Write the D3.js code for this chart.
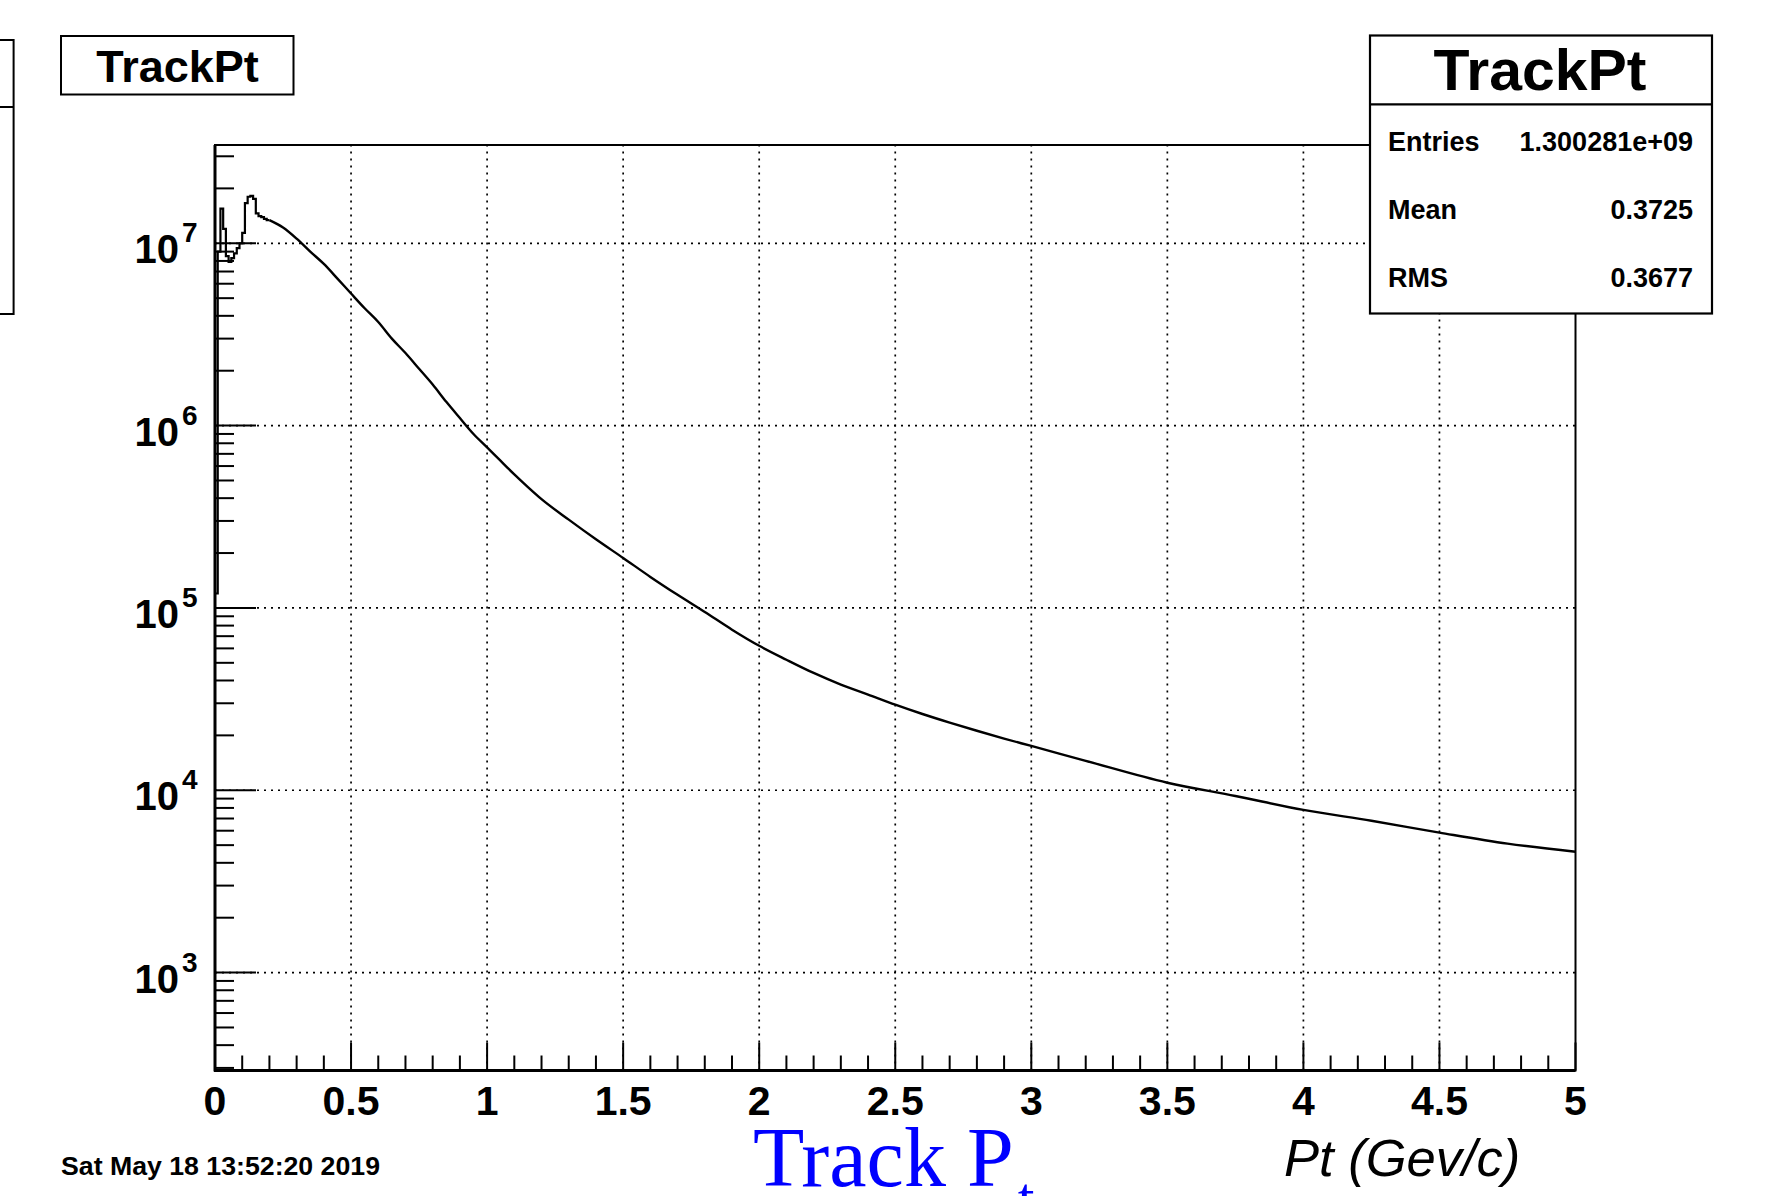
<!DOCTYPE html>
<html>
<head>
<meta charset="utf-8">
<script src="https://cdn.jsdelivr.net/npm/d3@7"></script>
<style>
  html, body { margin: 0; padding: 0; background: #fff; }
  svg { display: block; }
</style>
</head>
<body>
<svg id="chart" width="1777" height="1196"></svg>
<script>
// ---------------- DATA ----------------
// Low-Pt region: histogram bins of width 0.01 GeV/c starting at 0
const lowBinWidth = 0.01;
const lowBinCounts = [1.2e5, 9.0e6, 1.55e7, 1.2e7, 8.5e6, 7.9e6, 8.3e6, 8.8e6, 9.4e6, 1.0e7,
                      1.14e7, 1.66e7, 1.8e7, 1.82e7, 1.75e7, 1.46e7, 1.41e7, 1.39e7, 1.36e7, 1.34e7];
// Tail of the spectrum (Pt, counts)
const tailPt     = [0.20, 0.25, 0.30, 0.35, 0.40, 0.45, 0.50, 0.55, 0.60, 0.65, 0.70, 0.75, 0.80, 0.85, 0.90, 0.95,
                    1.00, 1.05, 1.10, 1.15, 1.20, 1.30, 1.40, 1.50, 1.60, 1.70, 1.80, 1.90, 2.00,
                    2.10, 2.20, 2.30, 2.40, 2.50, 2.60, 2.70, 2.80, 2.90,
                    3.00, 3.20, 3.50, 3.75, 4.00, 4.25, 4.50, 4.75, 5.00];
const tailCounts = [1.33e7, 1.22e7, 1.06e7, 9.0e6, 7.7e6, 6.4e6, 5.3e6, 4.4e6, 3.7e6, 3.0e6, 2.5e6, 2.05e6, 1.68e6, 1.35e6, 1.1e6, 9.0e5,
                    7.6e5, 6.4e5, 5.4e5, 4.6e5, 3.95e5, 3.05e5, 2.38e5, 1.88e5, 1.48e5, 1.18e5, 9.5e4, 7.6e4, 6.2e4,
                    5.2e4, 4.4e4, 3.8e4, 3.35e4, 2.95e4, 2.62e4, 2.35e4, 2.12e4, 1.92e4,
                    1.75e4, 1.45e4, 1.1e4, 9.3e3, 7.8e3, 6.8e3, 5.86e3, 5.1e3, 4.6e3];

const xMajorTicks = [0, 0.5, 1, 1.5, 2, 2.5, 3, 3.5, 4, 4.5, 5];
const xTickLabels = ["0", "0.5", "1", "1.5", "2", "2.5", "3", "3.5", "4", "4.5", "5"];
const yDecades = [1e3, 1e4, 1e5, 1e6, 1e7];
const yExponents = ["3", "4", "5", "6", "7"];

const histTitle = "TrackPt";
const statsLabels = ["Entries", "Mean", "RMS"];
const statsValues = ["1.300281e+09", "0.3725", "0.3677"];
const dateText = "Sat May 18 13:52:20 2019";
const xTitle = "Pt (Gev/c)";
const canvasLabel = "Track P";
const canvasLabelSub = "t";

// ---------------- LAYOUT ----------------
const svg = d3.select("#chart");
svg.append("rect").attr("width", 1777).attr("height", 1196).attr("fill", "#fff");

const L = 215, R = 1575.5, T = 145, B = 1070.5;
const x = d3.scaleLinear().domain([0, 5]).range([L, R]);
const y = d3.scaleLog().domain([Math.pow(10, 2.463), Math.pow(10, 7.539)]).range([B, T]);

const dotted = "2,5";
const sans = "'Liberation Sans', Arial, Helvetica, sans-serif";

// grid
const gridG = svg.append("g");
gridG.selectAll("line.vg").data(xMajorTicks.filter(v => v > 0 && v < 5)).enter().append("line")
  .attr("x1", d => x(d)).attr("x2", d => x(d)).attr("y1", B).attr("y2", T)
  .attr("stroke", "#000").attr("stroke-width", 1.7).attr("stroke-dasharray", dotted);
gridG.selectAll("line.hg").data(yDecades).enter().append("line")
  .attr("x1", L).attr("x2", R).attr("y1", d => y(d)).attr("y2", d => y(d))
  .attr("stroke", "#000").attr("stroke-width", 1.7).attr("stroke-dasharray", dotted);

// histogram: low-Pt bins as steps, tail as a smooth line
const stepPts = [];
lowBinCounts.forEach((c, i) => {
  stepPts.push([i * lowBinWidth, c]);
  stepPts.push([(i + 1) * lowBinWidth, c]);
});
const lineLin = d3.line().x(d => x(d[0])).y(d => y(d[1]));
svg.append("path").datum(stepPts).attr("d", lineLin)
  .attr("fill", "none").attr("stroke", "#000").attr("stroke-width", 2.2).attr("stroke-linejoin", "miter");
const tailPts = [[lowBinCounts.length * lowBinWidth, lowBinCounts[lowBinCounts.length - 1]]]
  .concat(tailPt.map((p, i) => [p, tailCounts[i]]).filter(d => d[0] > lowBinCounts.length * lowBinWidth + 1e-9));
const lineSmooth = d3.line().x(d => x(d[0])).y(d => y(d[1])).curve(d3.curveMonotoneX);
svg.append("path").datum(tailPts).attr("d", lineSmooth)
  .attr("fill", "none").attr("stroke", "#000").attr("stroke-width", 2.4);

// y ticks (inside)
const yMinor = [];
for (let e = 2; e <= 7; e++) {
  for (let m = 2; m <= 9; m++) {
    const v = m * Math.pow(10, e);
    if (v >= y.domain()[0] && v <= y.domain()[1]) yMinor.push(v);
  }
}
svg.append("g").selectAll("line").data(yMinor).enter().append("line")
  .attr("x1", L).attr("x2", L + 19).attr("y1", d => y(d)).attr("y2", d => y(d))
  .attr("stroke", "#000").attr("stroke-width", 2);
svg.append("g").selectAll("line").data(yDecades).enter().append("line")
  .attr("x1", L).attr("x2", L + 41).attr("y1", d => y(d)).attr("y2", d => y(d))
  .attr("stroke", "#000").attr("stroke-width", 2);

// x ticks (inside)
const xMinor = d3.range(0, 51).map(i => i / 10).filter(v => Math.abs(v * 2 - Math.round(v * 2)) > 1e-6);
svg.append("g").selectAll("line").data(xMinor).enter().append("line")
  .attr("x1", d => x(d)).attr("x2", d => x(d)).attr("y1", B).attr("y2", B - 15)
  .attr("stroke", "#000").attr("stroke-width", 2);
svg.append("g").selectAll("line").data(xMajorTicks).enter().append("line")
  .attr("x1", d => x(d)).attr("x2", d => x(d)).attr("y1", B).attr("y2", B - 28)
  .attr("stroke", "#000").attr("stroke-width", 2);

// frame
svg.append("rect").attr("x", L).attr("y", T).attr("width", R - L).attr("height", B - T)
  .attr("fill", "none").attr("stroke", "#000").attr("stroke-width", 2);
svg.append("line").attr("x1", L).attr("x2", L).attr("y1", T).attr("y2", B + 1)
  .attr("stroke", "#000").attr("stroke-width", 3);
svg.append("line").attr("x1", L - 1).attr("x2", R).attr("y1", B).attr("y2", B)
  .attr("stroke", "#000").attr("stroke-width", 3);

// x tick labels
svg.append("g").selectAll("text").data(xMajorTicks).enter().append("text")
  .attr("x", d => x(d)).attr("y", 1115)
  .attr("text-anchor", "middle")
  .attr("font-family", sans).attr("font-weight", "bold")
  .attr("font-size", 41).attr("fill", "#000")
  .text((d, i) => xTickLabels[i]);

// y tick labels 10^n
const yl = svg.append("g").selectAll("g").data(yDecades).enter().append("g");
yl.append("text").attr("x", 179).attr("y", d => y(d) + 20)
  .attr("text-anchor", "end")
  .attr("font-family", sans).attr("font-weight", "bold")
  .attr("font-size", 40).attr("fill", "#000").text("10");
yl.append("text").attr("x", 182).attr("y", d => y(d) - 1)
  .attr("font-family", sans).attr("font-weight", "bold")
  .attr("font-size", 28).attr("fill", "#000").text((d, i) => yExponents[i]);

// ghost box at left edge
svg.append("rect").attr("x", -10).attr("y", 40).attr("width", 23.6).attr("height", 274)
  .attr("fill", "#fff").attr("stroke", "#000").attr("stroke-width", 2);
svg.append("line").attr("x1", 0).attr("x2", 13.6).attr("y1", 107).attr("y2", 107)
  .attr("stroke", "#000").attr("stroke-width", 2);

// title box
svg.append("rect").attr("x", 61).attr("y", 36).attr("width", 232.5).attr("height", 58.5)
  .attr("fill", "#fff").attr("stroke", "#000").attr("stroke-width", 2);
svg.append("text").attr("x", 177.5).attr("y", 82)
  .attr("text-anchor", "middle")
  .attr("font-family", sans).attr("font-weight", "bold")
  .attr("font-size", 45).attr("fill", "#000").text(histTitle);

// stats box
const sx = 1370, sy = 35.5, sw = 342, sh = 278;
svg.append("rect").attr("x", sx).attr("y", sy).attr("width", sw).attr("height", sh)
  .attr("fill", "#fff").attr("stroke", "#000").attr("stroke-width", 2.2);
svg.append("line").attr("x1", sx).attr("x2", sx + sw).attr("y1", 104.3).attr("y2", 104.3)
  .attr("stroke", "#000").attr("stroke-width", 2.2);
svg.append("text").attr("x", 1540).attr("y", 90)
  .attr("text-anchor", "middle")
  .attr("font-family", sans).attr("font-weight", "bold")
  .attr("font-size", 57).attr("textLength", 213).attr("lengthAdjust", "spacingAndGlyphs")
  .attr("fill", "#000").text(histTitle);
const rowY = [151, 219, 287];
svg.append("g").selectAll("text").data(statsLabels).enter().append("text")
  .attr("x", 1388).attr("y", (d, i) => rowY[i])
  .attr("font-family", sans).attr("font-weight", "bold")
  .attr("font-size", 27).attr("fill", "#000").text(d => d);
svg.append("g").selectAll("text").data(statsValues).enter().append("text")
  .attr("x", 1693).attr("y", (d, i) => rowY[i])
  .attr("text-anchor", "end")
  .attr("font-family", sans).attr("font-weight", "bold")
  .attr("font-size", 27).attr("fill", "#000").text(d => d);

// date
svg.append("text").attr("x", 61).attr("y", 1175)
  .attr("font-family", sans).attr("font-weight", "bold")
  .attr("font-size", 25).attr("textLength", 319).attr("lengthAdjust", "spacingAndGlyphs")
  .attr("fill", "#000").text(dateText);

// canvas label Track P_t
const tl = svg.append("text").attr("x", 753).attr("y", 1186)
  .attr("font-family", "'Liberation Serif', 'Times New Roman', serif")
  .attr("font-size", 84).attr("fill", "#0000ff");
tl.append("tspan").text(canvasLabel);
tl.append("tspan").attr("font-size", 60).attr("dy", 32).attr("dx", 4).text(canvasLabelSub);

// x axis title
svg.append("text").attr("x", 1284).attr("y", 1176)
  .attr("font-family", sans).attr("font-style", "italic")
  .attr("font-size", 52.5).attr("fill", "#000").text(xTitle);
</script>
</body>
</html>
